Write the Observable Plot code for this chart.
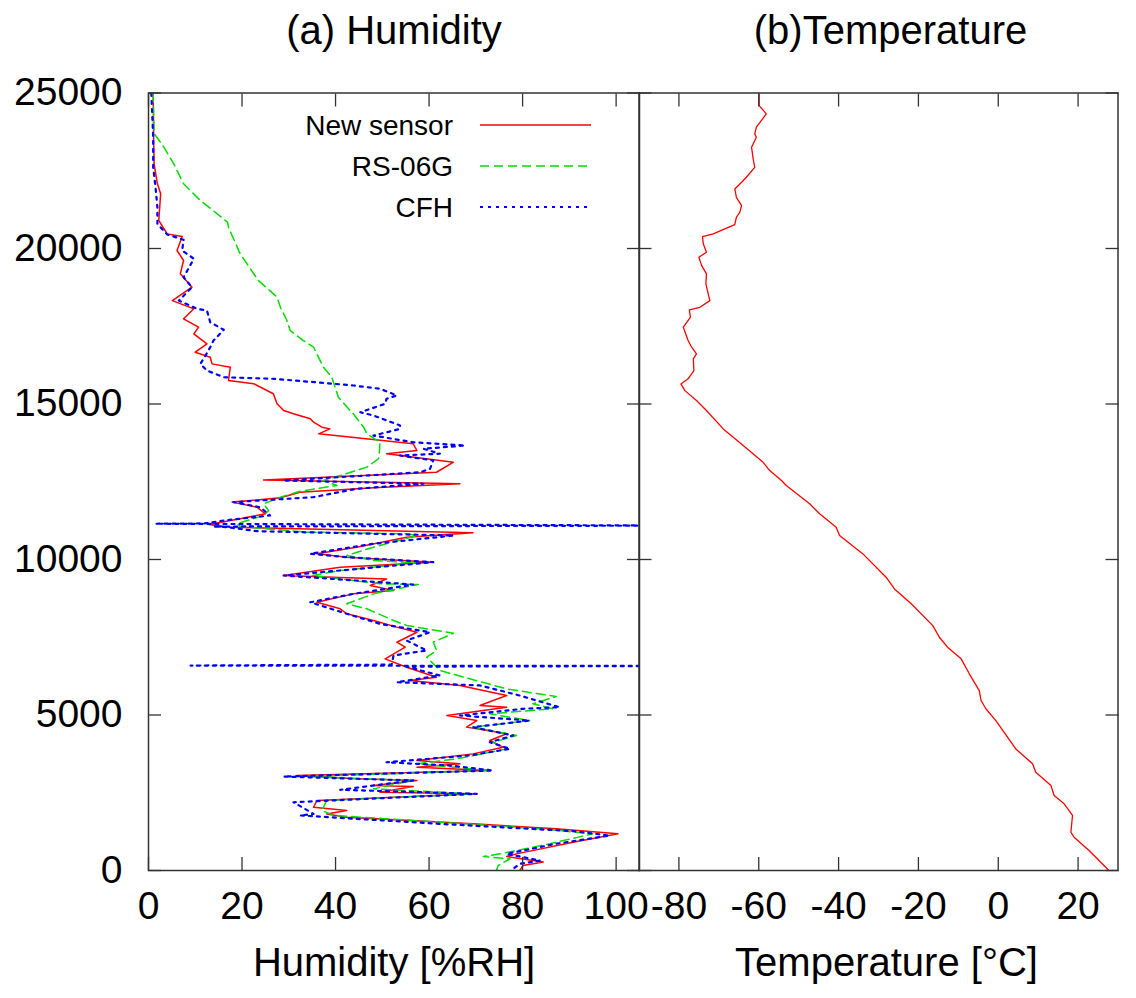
<!DOCTYPE html>
<html><head><meta charset="utf-8">
<script src="https://cdn.jsdelivr.net/npm/d3@7"></script>
<script src="https://cdn.jsdelivr.net/npm/@observablehq/plot@0.6"></script>
<style>
body{margin:0;background:#fff;}
#wrap{position:relative;width:1136px;height:998px;font-family:"Liberation Sans",Arial,sans-serif;overflow:hidden;}
#wrap svg{position:absolute;top:0;}
</style></head><body><div id="wrap"></div>
<script>
// ---- data: [altitude (m), value] ----
const seriesNames = ["New sensor", "RS-06G", "CFH"];
const humidityTicks = [0, 20, 40, 60, 80, 100];
const tempTicks = [-80, -60, -40, -20, 0, 20];
const altTicks = [0, 5000, 10000, 15000, 20000, 25000];

const newSensor = [[25000,1.0],[23580,1.1],[22720,1.2],[22080,1.9],[21760,2.6],[20900,2.2],[20470,4.0],[20385,7.2],[19935,6.1],[19615,7.5],[19185,6.8],[18755,9.3],[18325,5.1],[18060,9.7],[17740,7.5],[17470,10.7],[17255,9.7],[16935,12.5],[16665,10.0],[16505,13.2],[16290,13.6],[16185,17.5],[15755,17.1],[15650,22.5],[15330,26.7],[15005,27.5],[14790,28.9],[14685,31.0],[14525,34.6],[14415,35.3],[14255,37.1],[14200,38.8],[14040,36.4],[13720,56.6],[13505,57.4],[13400,50.9],[13185,62.3],[13130,65.2],[12805,61.6],[12560,24.6],[12435,66.6],[12305,48.1],[12165,32.4],[11985,28.2],[11845,17.9],[11680,23.2],[11470,25.0],[11310,19.6],[11125,12.9],[11040,17.5],[10860,69.4],[10715,55.2],[10395,44.5],[10185,36.0],[10075,42.4],[9915,60.9],[9750,41.0],[9485,28.9],[9420,41.0],[9370,50.9],[9165,47.4],[9005,52.4],[8895,43.8],[8625,36.0],[8415,41.0],[8255,42.4],[8040,48.1],[7825,53.1],[7660,57.4],[7340,53.1],[7180,54.9],[6805,50.6],[6535,55.2],[6215,61.6],[6110,55.9],[5950,66.6],[5625,76.6],[5465,73.7],[5305,70.9],[5250,76.6],[4985,63.8],[4820,70.2],[4610,68.0],[4395,76.6],[4180,73.0],[3965,75.8],[3750,69.4],[3535,57.4],[3430,66.6],[3320,57.4],[3215,73.0],[3055,31.7],[2950,44.5],[2895,57.4],[2735,48.1],[2700,56.6],[2520,49.5],[2465,70.2],[2250,36.0],[2035,35.3],[1930,42.4],[1820,38.1],[1715,42.4],[1500,69.4],[1340,87.2],[1180,100.4],[910,90.8],[535,78.7],[450,76.6],[270,84.4],[160,80.1],[0,79.4]];

const rs06g = [[25000,1.0],[23700,1.2],[23257,3.3],[22722,5.4],[22080,7.5],[21540,11.1],[21115,14.7],[20845,16.9],[20685,17.1],[19830,19.6],[18970,23.5],[18435,27.5],[18110,28.2],[17685,29.6],[17365,30.3],[17040,33.1],[16825,35.3],[16185,37.4],[15860,39.2],[15220,40.6],[14790,43.1],[14685,43.8],[14255,46.0],[14040,46.7],[13770,49.5],[13505,49.4],[13240,49.2],[12970,46.7],[12700,41.0],[12540,37.4],[12380,40.3],[12195,32.4],[12005,28.2],[11790,24.6],[11575,25.7],[11415,24.6],[11150,18.9],[11060,19.6],[10880,33.9],[10825,55.2],[10770,57.4],[10395,48.1],[10130,42.4],[9970,48.1],[9895,57.4],[9645,41.0],[9485,35.0],[9220,49.5],[9195,57.7],[8895,48.1],[8575,42.4],[8415,46.7],[8040,52.4],[7880,55.2],[7630,65.2],[7340,60.9],[7075,61.6],[6860,59.5],[6430,62.3],[6165,68.7],[5840,76.6],[5595,87.2],[5360,82.2],[5200,86.5],[5040,73.0],[4820,81.5],[4610,69.4],[4340,78.7],[4125,73.7],[3910,76.6],[3590,65.9],[3430,57.4],[3215,73.0],[3020,33.9],[2895,56.6],[2625,48.1],[2465,69.4],[2250,38.1],[1930,37.1],[1770,39.6],[1555,62.3],[1340,83.7],[1180,95.0],[860,85.8],[535,75.1],[450,71.6],[375,77.3],[160,74.8],[0,74.4]];

const cfh = [[25000,0.6],[23580,1.0],[22615,1.0],[21970,1.5],[21330,1.9],[20795,1.9],[20450,4.0],[20280,7.5],[19935,7.2],[19670,9.7],[19075,7.5],[18755,9.3],[18325,6.5],[18060,10.4],[18005,12.5],[17630,13.2],[17385,16.1],[17040,13.9],[16825,13.2],[16560,12.2],[16290,11.1],[16075,12.5],[15860,16.1],[15810,26.7],[15670,38.1],[15595,43.8],[15490,49.5],[15275,53.1],[15165,50.9],[15005,50.6],[14735,45.3],[14630,48.1],[14310,53.8],[14200,53.8],[13985,48.1],[13770,56.6],[13665,67.7],[13560,58.8],[13400,62.3],[13345,53.8],[13185,60.9],[12915,60.2],[12805,58.1],[12540,28.9],[12435,58.8],[12275,44.5],[12005,35.3],[11845,18.2],[11680,23.9],[11415,26.0],[11255,16.1],[11160,12.0],[11150,1.5],[11090,115],[11060,14.0],[11040,16.8],[10910,23.2],[10770,65.2],[10505,48.1],[10185,34.6],[10075,42.4],[9915,60.9],[9485,28.9],[9195,56.6],[8895,43.8],[8625,34.6],[8255,42.4],[7930,49.5],[7660,60.2],[7395,55.2],[7075,59.5],[6915,52.4],[6620,52.0],[6590,9.0],[6575,115],[6555,55.2],[6270,62.3],[6055,53.1],[5950,70.9],[5625,79.4],[5250,87.9],[5200,80.1],[4985,66.6],[4820,81.5],[4610,69.4],[4340,78.0],[4125,73.0],[3910,77.3],[3700,68.7],[3480,50.9],[3375,64.5],[3215,73.7],[3020,28.9],[2895,56.6],[2595,41.0],[2465,70.2],[2195,31.0],[1820,35.3],[1770,32.4],[1500,62.3],[1265,90.8],[1125,98.6],[860,87.2],[535,76.6],[430,80.1],[320,83.7],[215,79.4],[55,78.0]];

const temperature = [[25000,-59.9],[24595,-59.9],[24330,-58.1],[23900,-60.6],[23685,-61.0],[23575,-60.6],[23255,-61.8],[22880,-61.4],[22610,-61.0],[22290,-63.1],[22130,-64.3],[21915,-66.0],[21645,-65.6],[21380,-64.3],[21165,-64.75],[21005,-65.6],[20770,-66.0],[20630,-68.5],[20470,-71.4],[20385,-74.1],[20150,-73.9],[19880,-73.1],[19720,-75.0],[19450,-74.3],[19185,-73.1],[18860,-73.25],[18325,-72.25],[18110,-74.75],[18025,-77.4],[17790,-77.1],[17470,-78.9],[17040,-77.7],[16825,-76.8],[16610,-75.6],[16450,-76.4],[16075,-76.25],[15810,-77.7],[15645,-79.5],[15430,-78.5],[15110,-75.6],[14790,-73.1],[14200,-68.9],[13665,-63.9],[13125,-58.9],[12860,-57.25],[12540,-54.3],[12380,-53.1],[11790,-47.25],[11470,-44.75],[11040,-40.6],[10770,-39.75],[10180,-33.9],[9430,-28.1],[9055,-26.0],[8575,-21.8],[7875,-16.4],[7500,-14.75],[7180,-12.7],[6805,-9.3],[6325,-7.25],[5785,-4.75],[5465,-4.3],[5200,-3.1],[4820,-0.6],[3910,4.4],[3430,8.6],[3160,9.4],[2730,13.2],[2410,14.0],[2145,16.5],[1770,18.6],[1230,18.2],[1070,19.0],[645,22.75],[55,27.3],[0,27.7]];

const colors = ["#ff0000", "#00dd00", "#0000ff"];
const dashes = [null, "9,5", "3,5"];
const widths = [1.5, 1.5, 2.2];

// ---- layout ----
const H = 998, MT = 92.5, MB = 128;
const FONT = "'Liberation Sans', Arial, sans-serif";
const frameColor = "#333";
const tick = 13;

function frameTicks(xTicks) {
  return [
    Plot.axisY(altTicks, {anchor: "left", tickSize: tick, dx: tick, fill: "none", stroke: frameColor, strokeWidth: 1.3, label: null}),
    Plot.axisY(altTicks, {anchor: "right", tickSize: tick, dx: -tick, fill: "none", stroke: frameColor, strokeWidth: 1.3, label: null}),
    Plot.axisX(xTicks, {anchor: "bottom", tickSize: tick, dy: -tick, fill: "none", stroke: frameColor, strokeWidth: 1.3, label: null}),
    Plot.axisX(xTicks, {anchor: "top", tickSize: tick, dy: tick, fill: "none", stroke: frameColor, strokeWidth: 1.3, label: null}),
    Plot.frame({stroke: frameColor, strokeWidth: 1.5})
  ];
}

const leftPlot = Plot.plot({
  width: 700, height: H,
  marginLeft: 148, marginRight: 61, marginTop: MT, marginBottom: MB,
  style: {background: "none", fontFamily: FONT, color: "#000", overflow: "visible"},
  x: {domain: [0, 105]},
  y: {domain: [0, 25000]},
  marks: [
    Plot.line(newSensor, {x: d => d[1], y: d => d[0], stroke: colors[0], strokeWidth: widths[0], clip: true}),
    Plot.line(rs06g, {x: d => d[1], y: d => d[0], stroke: colors[1], strokeWidth: widths[1], strokeDasharray: dashes[1], clip: true}),
    Plot.line(cfh, {x: d => d[1], y: d => d[0], stroke: colors[2], strokeWidth: widths[2], strokeDasharray: dashes[2], clip: true}),
    ...frameTicks(humidityTicks),
    Plot.axisY(altTicks, {anchor: "left", tickSize: 0, tickPadding: 26, fontSize: 39, tickFormat: d => String(d), label: null}),
    Plot.axisX(humidityTicks, {anchor: "bottom", tickSize: 0, tickPadding: 21, fontSize: 39, tickFormat: d => String(d), label: null}),
    Plot.text(["(a) Humidity"], {frameAnchor: "top", dy: -62, fontSize: 40, lineAnchor: "middle"}),
    Plot.text(["Humidity [%RH]"], {frameAnchor: "bottom", dy: 93, fontSize: 40, lineAnchor: "middle"})
  ]
});

const rightPlot = Plot.plot({
  width: 536, height: H,
  marginLeft: 38.5, marginRight: 18.5, marginTop: MT, marginBottom: MB,
  style: {background: "none", fontFamily: FONT, color: "#000", overflow: "visible"},
  x: {domain: [-90, 30]},
  y: {domain: [0, 25000]},
  marks: [
    Plot.line(temperature, {x: d => d[1], y: d => d[0], stroke: colors[0], strokeWidth: 1.3, clip: true}),
    ...frameTicks(tempTicks),
    Plot.axisX(tempTicks, {anchor: "bottom", tickSize: 0, tickPadding: 21, fontSize: 39, tickFormat: d => String(d), label: null}),
    Plot.text(["(b)Temperature"], {frameAnchor: "top", dx: 12, dy: -62, fontSize: 40, lineAnchor: "middle"}),
    Plot.text(["Temperature [\u00B0C]"], {frameAnchor: "bottom", dx: 8, dy: 93, fontSize: 40, lineAnchor: "middle"})
  ]
});

const wrap = document.getElementById("wrap");
leftPlot.style.left = "0px";
rightPlot.style.left = "600px";
wrap.appendChild(leftPlot);
wrap.appendChild(rightPlot);

// ---- legend (inside humidity panel, top right) ----
const ns = "http://www.w3.org/2000/svg";
const leg = document.createElementNS(ns, "svg");
leg.setAttribute("width", 340); leg.setAttribute("height", 130);
leg.style.position = "absolute"; leg.style.left = "280px"; leg.style.top = "100px";
seriesNames.forEach((name, i) => {
  const cy = 25 + i * 41;
  const t = document.createElementNS(ns, "text");
  t.setAttribute("x", 173); t.setAttribute("y", cy); t.setAttribute("dy", "0.35em");
  t.setAttribute("text-anchor", "end"); t.setAttribute("font-size", 28);
  t.setAttribute("font-family", FONT);
  t.textContent = name;
  leg.appendChild(t);
  const l = document.createElementNS(ns, "line");
  l.setAttribute("x1", 200); l.setAttribute("x2", 311);
  l.setAttribute("y1", cy); l.setAttribute("y2", cy);
  l.setAttribute("stroke", colors[i]); l.setAttribute("stroke-width", widths[i]);
  if (dashes[i]) l.setAttribute("stroke-dasharray", dashes[i]);
  leg.appendChild(l);
});
wrap.appendChild(leg);
</script></body></html>
